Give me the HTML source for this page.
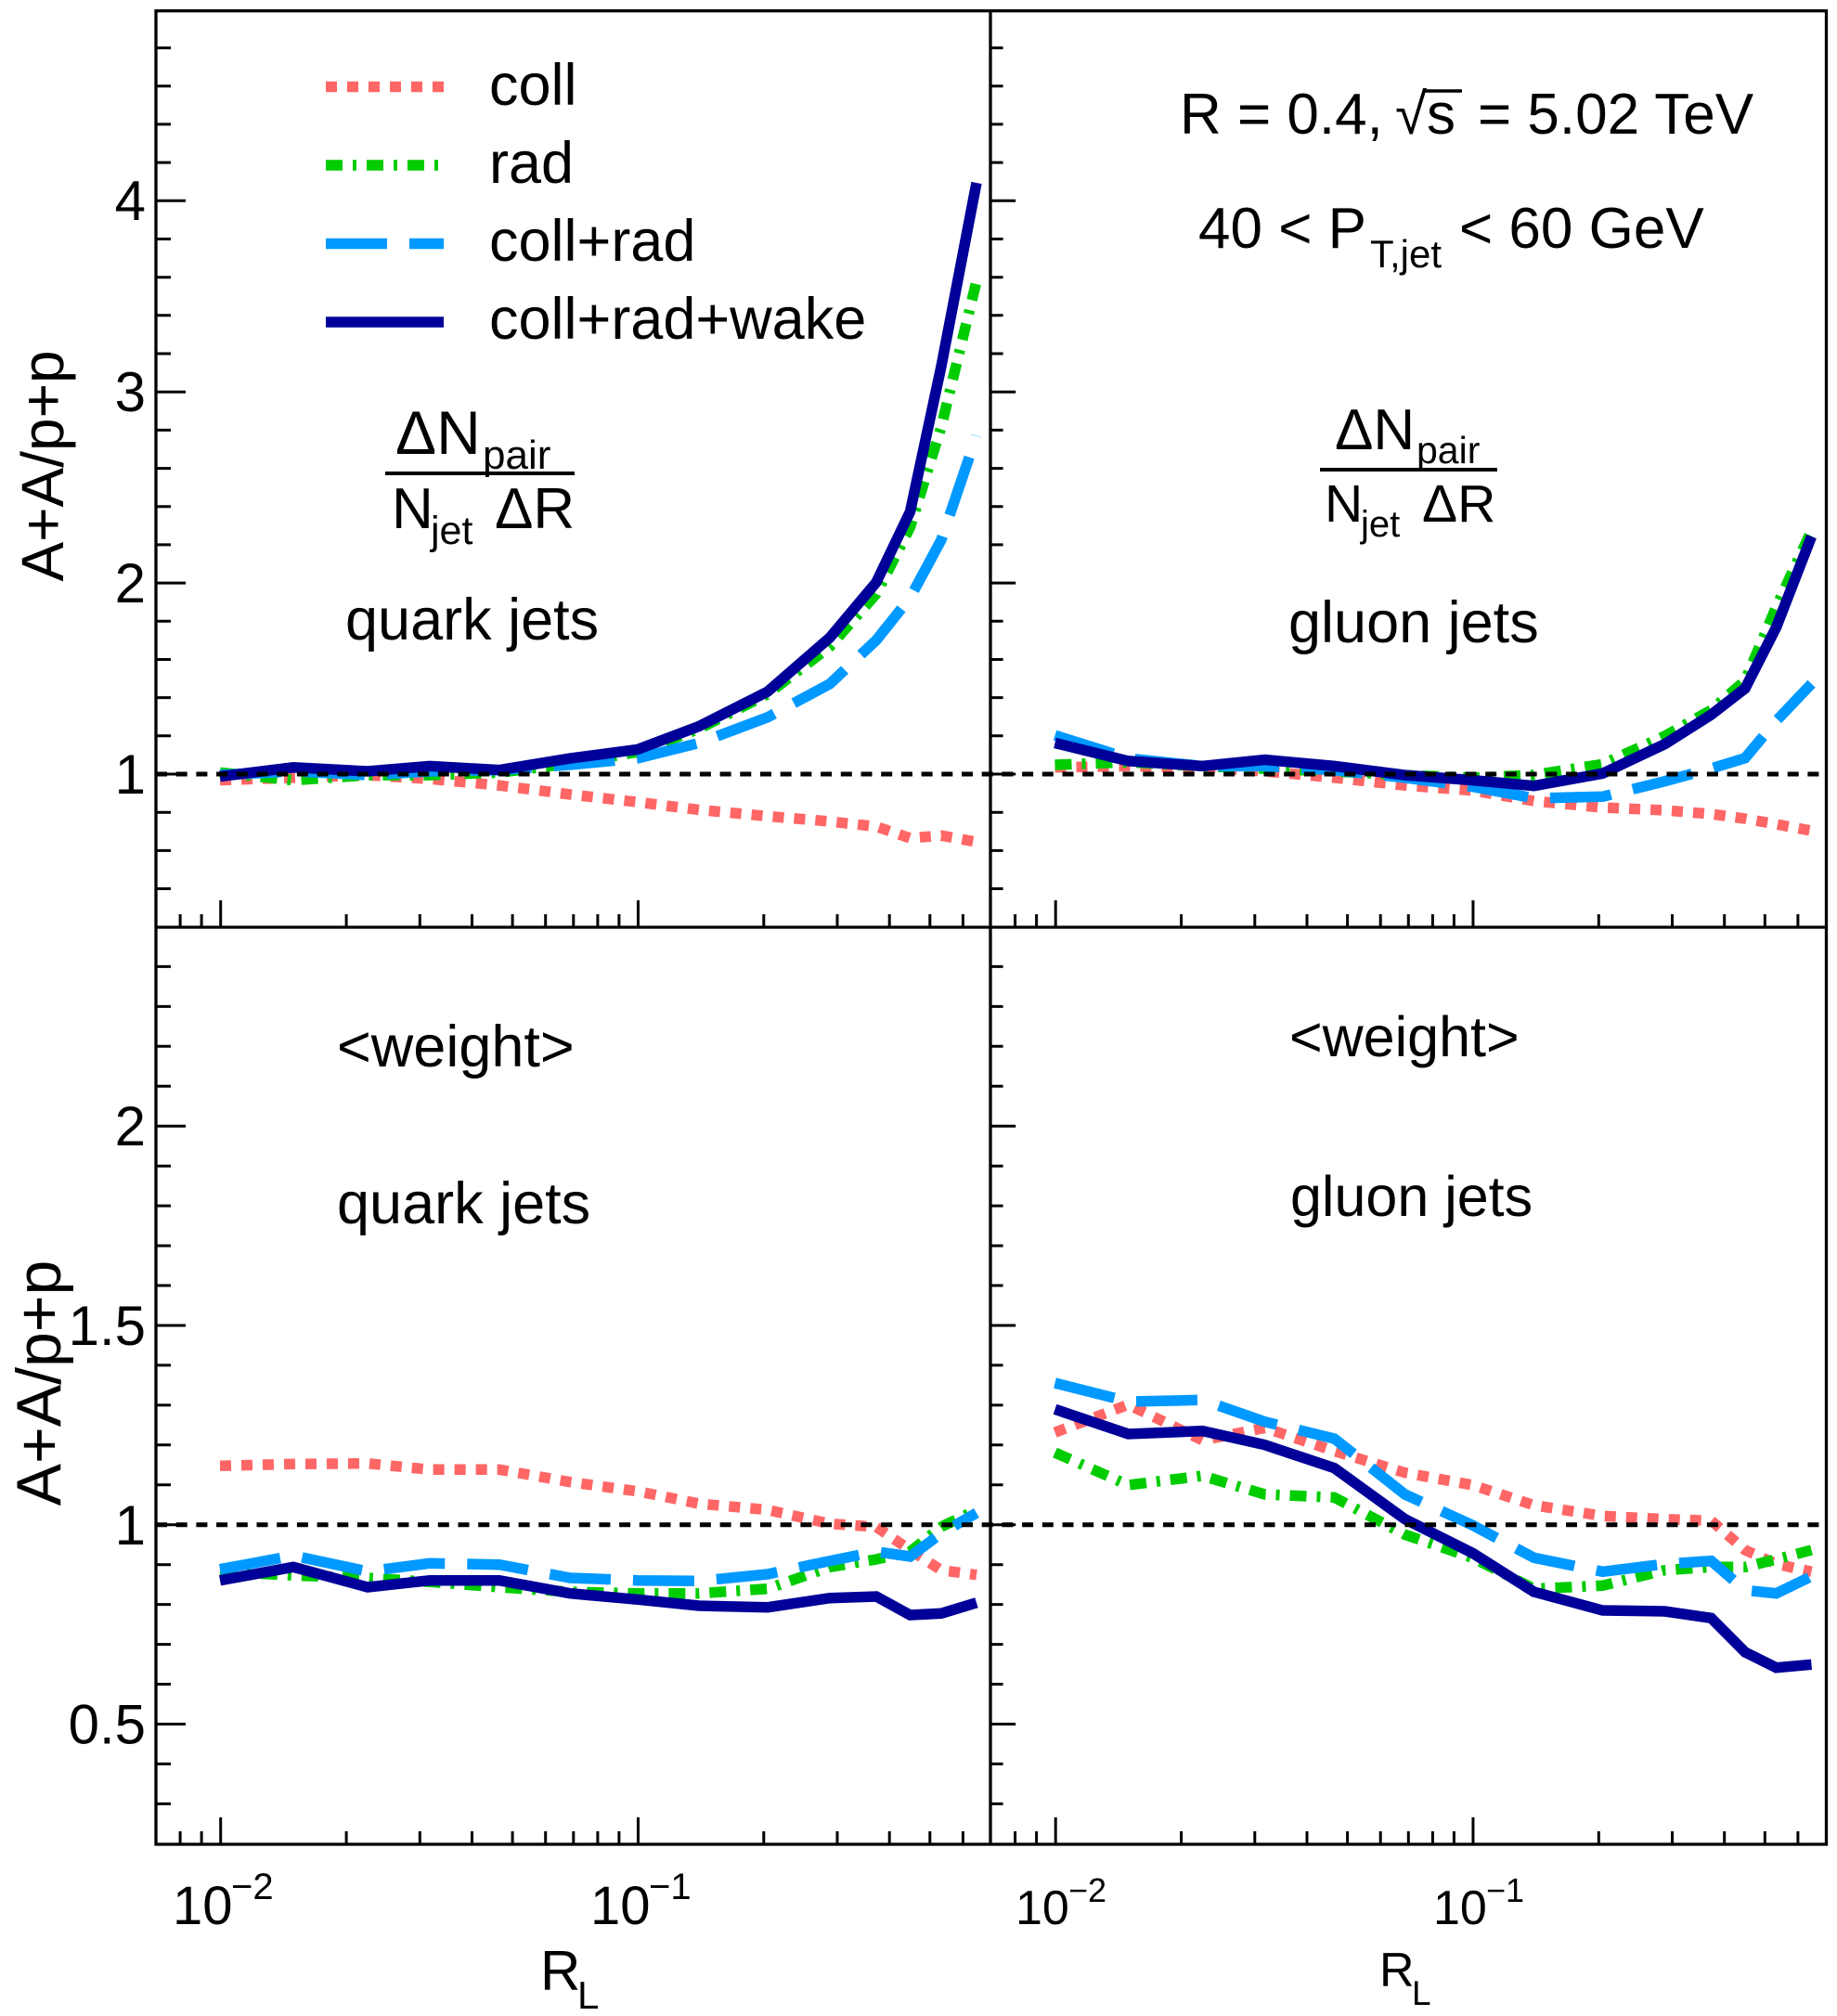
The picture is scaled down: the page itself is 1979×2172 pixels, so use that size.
<!DOCTYPE html>
<html>
<head>
<meta charset="utf-8">
<style>
html,body{margin:0;padding:0;background:#fff;}
svg{display:block;}
text{font-family:"Liberation Sans",Arial,Helvetica,sans-serif;fill:#000;}
</style>
</head>
<body>
<svg xmlns="http://www.w3.org/2000/svg" width="1979" height="2172" viewBox="0 0 1979 2172">
<rect x="0" y="0" width="1979" height="2172" fill="#fff"/>

<defs>
<path id="yt" d="M168 834h32M168 628.1h32M168 422.2h32M168 216.3h32M168 957.5h16M168 916.4h16M168 875.2h16M168 792.8h16M168 751.6h16M168 710.5h16M168 669.3h16M168 586.9h16M168 545.7h16M168 504.6h16M168 463.4h16M168 381h16M168 339.8h16M168 298.8h16M168 257.5h16M168 175.1h16M168 133.9h16M168 92.8h16M168 51.6h16M168 1857.5h32M168 1642.7h32M168 1428h32M168 1213.2h32M168 1943.4h16M168 1900.4h16M168 1814.5h16M168 1771.6h16M168 1728.6h16M168 1685.7h16M168 1599.8h16M168 1556.8h16M168 1513.9h16M168 1470.9h16M168 1385h16M168 1342.1h16M168 1299.1h16M168 1256.2h16M168 1170.3h16M168 1127.3h16M168 1084.4h16M168 1041.4h16" stroke="#000" stroke-width="3" fill="none"/>
<path id="xt" d="M194.1 999v-14M217.1 999v-14M237.7 999v-29M373.1 999v-14M452.3 999v-14M508.5 999v-14M552.1 999v-14M587.7 999v-14M617.8 999v-14M643.9 999v-14M666.9 999v-14M687.45 999v-29M822.8 999v-14M902 999v-14M958.2 999v-14M1001.8 999v-14M1037.4 999v-14" stroke="#000" stroke-width="3" fill="none"/>
</defs>

<!-- ticks -->
<use href="#yt"/>
<use href="#yt" transform="translate(1067 0) scale(0.85 1) translate(-168 0)"/>
<use href="#xt"/>
<use href="#xt" transform="translate(899.5 0)"/>
<use href="#xt" transform="translate(0 988)"/>
<use href="#xt" transform="translate(899.5 988)"/>

<g fill="none" stroke-width="11.5" stroke-linejoin="miter" stroke-miterlimit="3">
<!-- Top-left -->
<polyline stroke="#ff6666" stroke-dasharray="12 11" points="237,840.6 316,837.9 396,835.1 463,839.2 538,846.2 614,855.9 687,864.2 753,872.5 827,879.4 894,885 944,890.5 980.5,903 1014,900.2 1052,907.1"/>
<polyline stroke="#00cc00" stroke-dasharray="18 11 4 11" points="237,832.3 316,840.6 396,835.1 463,835.1 538,832.3 614,822.6 687,810.2 753,785.2 827,747.8 894,696.6 944,639.8 980.5,568 1014,460 1052,303"/>
<polyline stroke="#0099ff" stroke-dasharray="66 24" points="237,835 316,831 396,835 463,831 538,829.6 614,824 687,817 753,800.5 827,772.8 894,736.8 944,689.7 980.5,644 1014,581.7 1052,469.5"/>
<polyline stroke="#000099" points="237,836.5 316,826.8 396,831 463,825.4 538,829.6 614,817.1 687,807.4 753,782.5 827,745.1 894,686.9 944,627.4 980.5,551.2 1014,394.7 1052,197"/>

<!-- Top-right -->
<polyline stroke="#ff6666" stroke-dasharray="12 11" points="1136.5,826.8 1215.5,825.4 1295.5,826.8 1362.5,831 1437.5,837.9 1513.5,846.2 1586.5,851.7 1652.5,863 1726.5,870 1793.5,873 1843.5,877 1880,882 1913.5,888 1951.5,895"/>
<polyline stroke="#00cc00" stroke-dasharray="18 11 4 11" points="1136.5,824 1215.5,821.2 1295.5,825.4 1362.5,828.2 1437.5,831 1513.5,835.1 1586.5,837.9 1652.5,835 1726.5,823.3 1793.5,793 1843.5,765 1880,733.3 1913.5,654 1951.5,571.7"/>
<polyline stroke="#0099ff" stroke-dasharray="66 24" points="1136.5,792.2 1215.5,817.1 1295.5,825.4 1362.5,825.4 1437.5,829.6 1513.5,837.9 1586.5,847.6 1652.5,860 1726.5,858.3 1793.5,841.7 1843.5,828 1880,816.7 1913.5,776.7 1951.5,736.7"/>
<polyline stroke="#000099" points="1136.5,800.5 1215.5,819.9 1295.5,825.4 1362.5,818.5 1437.5,825.4 1513.5,835.1 1586.5,840.6 1652.5,846.7 1726.5,833.3 1793.5,801.7 1843.5,770 1880,741.7 1913.5,676 1951.5,578"/>

<!-- Bottom-left -->
<polyline stroke="#ff6666" stroke-dasharray="12 11" points="237,1579.3 316,1577.3 396,1576.7 463,1583.3 538,1583.3 614,1596.7 687,1606.7 753,1620 827,1626.7 894,1641.7 944,1645 980.5,1670 1014,1691.7 1052,1696.7"/>
<polyline stroke="#00cc00" stroke-dasharray="18 11 4 11" points="237,1693.3 316,1697.3 396,1700 463,1704.3 538,1710 614,1715 687,1716.7 753,1716.7 827,1711.7 894,1688.3 944,1680 980.5,1671.7 1014,1645 1052,1626.7"/>
<polyline stroke="#0099ff" stroke-dasharray="66 24" points="237,1690.7 316,1676 396,1693 463,1684.3 538,1685.7 614,1700 687,1702.7 753,1703.3 827,1696 894,1681.7 944,1671.7 980.5,1677 1014,1652 1052,1630"/>
<polyline stroke="#000099" points="237,1702.7 316,1688.3 396,1710 463,1702.7 538,1702.7 614,1716.7 687,1723.3 753,1730 827,1731.7 894,1721.7 944,1720 980.5,1740 1014,1738.3 1052,1726.7"/>

<!-- Bottom-right -->
<polyline stroke="#ff6666" stroke-dasharray="12 11" points="1136.5,1543.3 1215.5,1513.3 1295.5,1551.7 1362.5,1538.3 1437.5,1563.3 1513.5,1586.7 1586.5,1600 1652.5,1621.7 1726.5,1633.3 1793.5,1636.7 1843.5,1638.3 1880,1670 1913.5,1685 1951.5,1693.3"/>
<polyline stroke="#00cc00" stroke-dasharray="18 11 4 11" points="1136.5,1565 1215.5,1600 1295.5,1590 1362.5,1610 1437.5,1613.3 1513.5,1653.3 1586.5,1678.3 1652.5,1711.7 1726.5,1708.3 1793.5,1691.7 1843.5,1688.3 1880,1688.3 1913.5,1680 1951.5,1670"/>
<polyline stroke="#0099ff" stroke-dasharray="66 24" points="1136.5,1490 1215.5,1510 1295.5,1508.3 1362.5,1531.7 1437.5,1550 1513.5,1610 1586.5,1643.3 1652.5,1678.3 1726.5,1693.3 1793.5,1685 1843.5,1681.7 1880,1713.3 1913.5,1716.7 1951.5,1698.3"/>
<polyline stroke="#000099" points="1136.5,1518.3 1215.5,1545 1295.5,1541.7 1362.5,1556.7 1437.5,1581.7 1513.5,1636.7 1586.5,1673.3 1652.5,1715 1726.5,1735 1793.5,1736 1843.5,1743.3 1880,1780 1913.5,1796.7 1951.5,1793.3"/>

<!-- Legend lines -->
<path stroke="#ff6666" stroke-dasharray="12 11" d="M351 93.5H478"/>
<path stroke="#00cc00" stroke-dasharray="18 11 4 11" d="M351 178H478"/>
<path stroke="#0099ff" stroke-dasharray="66 24" d="M351 262.5H478"/>
<path stroke="#000099" d="M351 347H478"/>
</g>

<!-- reference lines at 1 -->
<path d="M168 834H1967.5M168 1642.7H1967.5" stroke="#000" stroke-width="5" stroke-dasharray="12 9.7" fill="none"/>

<!-- frame -->
<rect x="168" y="11.7" width="1799.5" height="1975.3" fill="none" stroke="#000" stroke-width="3.3"/>
<path d="M1067 11.7V1987M168 999H1967.5" stroke="#000" stroke-width="3.3" fill="none"/>

<!-- legend text -->
<text x="527" y="113" font-size="63">coll</text>
<text x="527" y="197" font-size="63">rad</text>
<text x="527" y="281" font-size="63">coll+rad</text>
<text x="527" y="365" font-size="63">coll+rad+wake</text>

<!-- Y tick labels -->
<g font-size="60" text-anchor="end">
<text x="157" y="855">1</text>
<text x="157" y="649">2</text>
<text x="157" y="443">3</text>
<text x="157" y="237">4</text>
<text x="157" y="1878.5">0.5</text>
<text x="157" y="1664">1</text>
<text x="157" y="1449">1.5</text>
<text x="157" y="1234">2</text>
</g>

<!-- Y axis titles -->
<text transform="translate(68 502) rotate(-90)" text-anchor="middle" font-size="64">A+A/p+p</text>
<text transform="translate(65 1490) rotate(-90)" text-anchor="middle" font-size="68">A+A/p+p</text>

<!-- X tick labels -->
<text x="186" y="2073" font-size="58">10</text>
<text x="249" y="2046" font-size="40">−2</text>
<text x="636" y="2073" font-size="58">10</text>
<text x="699" y="2046" font-size="40">−1</text>
<text x="1094" y="2073" font-size="52">10</text>
<text x="1151" y="2049" font-size="36">−2</text>
<text x="1544" y="2073" font-size="52">10</text>
<text x="1601" y="2049" font-size="36">−1</text>

<!-- X axis titles -->
<text x="582" y="2144" font-size="60">R</text>
<text x="622" y="2164" font-size="42">L</text>
<text x="1486" y="2140" font-size="52">R</text>
<text x="1521" y="2160" font-size="37">L</text>

<!-- Top-right header text -->
<text x="1271" y="144" font-size="62">R = 0.4,</text>
<text x="1503" y="144" font-size="62">√</text>
<path d="M1533 98H1575" stroke="#000" stroke-width="3.5"/>
<text x="1537" y="144" font-size="62">s</text>
<text x="1592" y="144" font-size="62">= 5.02 TeV</text>

<text x="1291" y="267" font-size="62">40 &lt; P</text>
<text x="1476" y="288" font-size="42">T,jet</text>
<text x="1572" y="267" font-size="62">&lt; 60 GeV</text>

<!-- Left fraction -->
<text x="426" y="489" font-size="66">ΔN</text>
<text x="520" y="505" font-size="44">pair</text>
<path d="M415 510H619" stroke="#000" stroke-width="4"/>
<text x="422" y="569" font-size="62">N</text>
<text x="464" y="586" font-size="43">jet</text>
<text x="533" y="569" font-size="62">ΔR</text>
<text x="372" y="689" font-size="63">quark jets</text>

<!-- Right fraction -->
<text x="1438" y="484" font-size="62">ΔN</text>
<text x="1526" y="499" font-size="41">pair</text>
<path d="M1422 506H1613" stroke="#000" stroke-width="4"/>
<text x="1427" y="562" font-size="57">N</text>
<text x="1466" y="578" font-size="40">jet</text>
<text x="1532" y="562" font-size="57">ΔR</text>
<text x="1388" y="692" font-size="63">gluon jets</text>

<!-- Bottom texts -->
<text x="363" y="1149" font-size="63">&lt;weight&gt;</text>
<text x="363" y="1318" font-size="63">quark jets</text>
<text x="1389" y="1138" font-size="61">&lt;weight&gt;</text>
<text x="1390" y="1310" font-size="61">gluon jets</text>

</svg>
</body>
</html>
